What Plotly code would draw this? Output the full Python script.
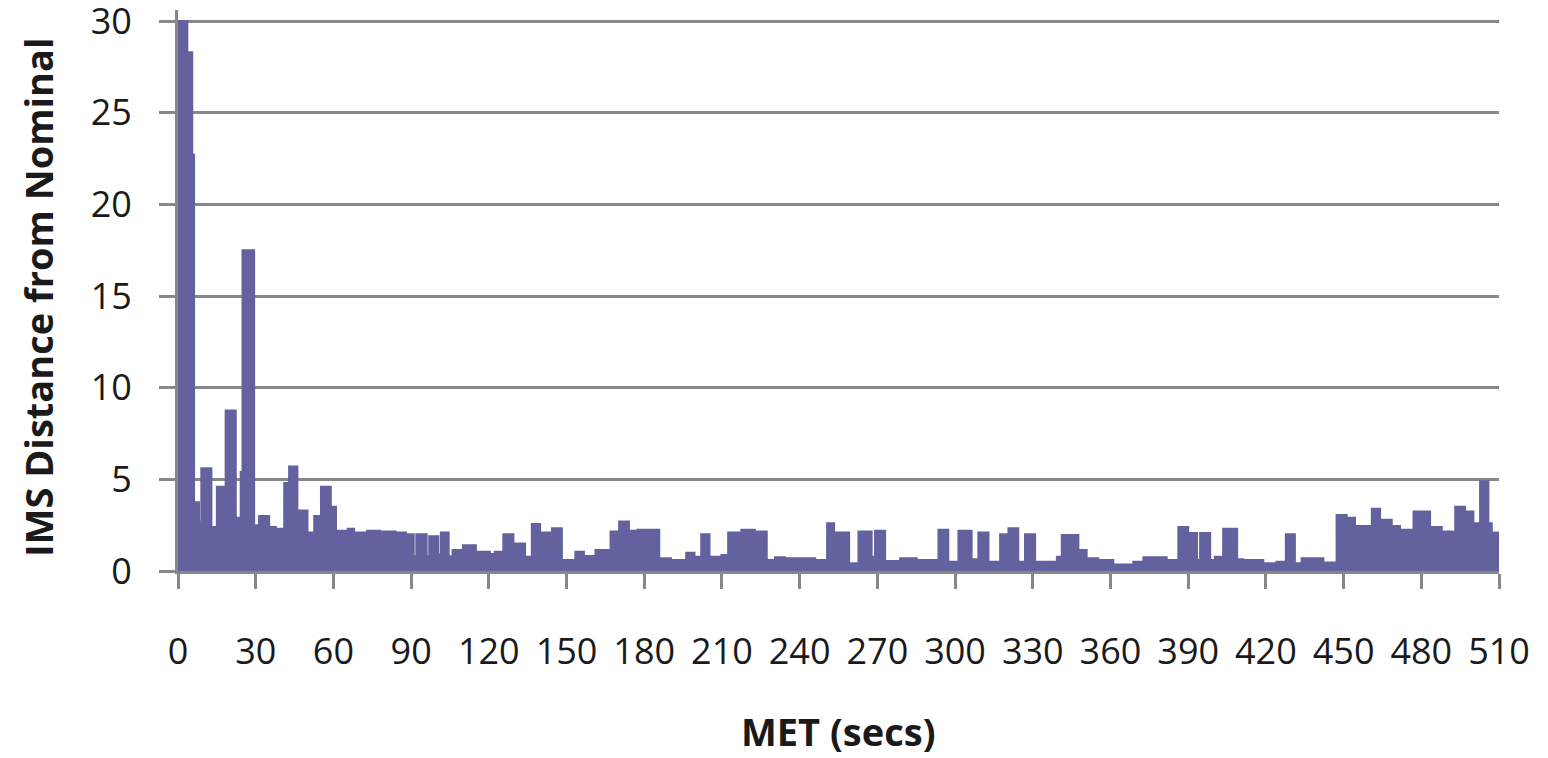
import plotly.graph_objects as go

# Step start times (secs) and envelope level (IMS distance)
met_start = [0, 3.6, 5.5, 6.2, 8.1, 9.0, 12.9, 15.0, 18.4, 22.3, 24.2, 24.9, 29.4, 31.3,
             35.2, 37.8, 41.0, 42.9, 46.1, 50.0, 52.6, 55.2, 59.0, 61.0, 65.5, 68.0, 73.0,
             78.0, 84.0, 88.0, 91.0, 92.0, 96.0, 97.0, 100.5, 101.5, 104.5, 106.0, 110.0,
             115.0, 120.4, 122.3, 125.6, 129.5, 134.0, 136.6, 139.8, 144.4, 148.2, 153.4,
             156.7, 161.2, 167.0, 170.3, 174.1, 177.4, 185.8, 190.3, 196.2, 199.4, 202.0,
             205.2, 209.8, 212.4, 217.5, 222.7, 227.3, 230.5, 234.4, 246.0, 250.6, 253.3,
             259.1, 262.7, 267.8, 269.1, 273.0, 278.8, 285.2, 293.6, 297.4, 301.3, 306.4,
             309.0, 312.9, 317.4, 320.6, 324.4, 327.0, 330.9, 339.3, 341.2, 347.6, 350.8,
             355.3, 361.1, 368.8, 372.7, 381.7, 386.2, 390.0, 393.4, 394.6, 398.5, 400.3,
             403.5, 408.9, 411.2, 419.0, 424.1, 427.7, 431.2, 433.8, 442.2, 447.3, 451.2,
             454.4, 460.9, 464.1, 468.6, 471.8, 477.0, 483.4, 487.9, 493.1, 496.9, 500.1,
             502.7, 505.9, 507.2, 510.0]
ims_level = [30, 28.3, 22.7, 3.75, 2.7, 5.6, 2.4, 4.6, 8.75, 2.9, 5.4, 17.5, 2.5, 3.0,
             2.4, 2.3, 4.8, 5.7, 3.3, 2.1, 3.0, 4.6, 3.5, 2.2, 2.3, 2.1, 2.2,
             2.15, 2.1, 2.0, 0.8, 2.0, 0.8, 1.9, 0.9, 2.1, 0.8, 1.15, 1.4,
             1.05, 0.93, 1.05, 2.0, 1.5, 0.78, 2.56, 2.1, 2.33, 0.6, 1.05,
             0.82, 1.15, 2.15, 2.7, 2.2, 2.25, 0.7, 0.6, 1.0, 0.78, 2.0,
             0.78, 0.87, 2.1, 2.25, 2.15, 0.6, 0.75, 0.7, 0.6, 2.6, 2.1,
             0.42, 2.15, 0.78, 2.2, 0.55, 0.7, 0.6, 2.25, 0.5, 2.2, 0.64,
             2.1, 0.5, 2.0, 2.33, 0.5, 2.0, 0.5, 0.78, 1.96, 1.15, 0.7,
             0.6, 0.36, 0.5, 0.75, 0.6, 2.4, 2.07, 0.6, 2.07, 0.6, 0.78,
             2.3, 0.64, 0.6, 0.42, 0.5, 2.0, 0.42, 0.7, 0.47, 3.05, 2.9,
             2.45, 3.4, 2.8, 2.45, 2.25, 3.25, 2.4, 2.15, 3.5, 3.25, 2.6,
             4.9, 2.6, 2.1, 2.1]

x_ticks = list(range(0, 511, 30))
y_ticks = [0, 5, 10, 15, 20, 25, 30]

COLOR = "#63629F"
GRID = "#878787"
FONT = "Open Sans"
TXT = "#1a1a1a"

PLOT_H = 561  # pixel height of the plotting area


def py(p):
    """screen pixel row -> paper y"""
    return (571 - p) / PLOT_H


fig = go.Figure()
fig.add_trace(go.Scatter(
    x=met_start, y=ims_level, mode="lines", line_shape="hv",
    line=dict(color=COLOR, width=2), fill="tozeroy", fillcolor=COLOR,
    showlegend=False, hoverinfo="skip"))

fig.update_layout(
    width=1548, height=758,
    margin=dict(l=178, r=49, t=10, b=187, autoexpand=False),
    plot_bgcolor="white", paper_bgcolor="white",
    font=dict(family=FONT, size=36, color=TXT),
    xaxis=dict(range=[0, 510], tickvals=x_ticks, tickangle=0, automargin=False,
               showgrid=False, zeroline=False, showline=True, linecolor=GRID,
               linewidth=3, ticks="outside", ticklen=15, tickwidth=3,
               tickcolor=GRID, ticklabelstandoff=32, ticklabeloverflow="allow",
               tickfont=dict(family=FONT, size=36, color=TXT)),
    yaxis=dict(range=[0, 30.6], tickvals=y_ticks, automargin=False,
               showgrid=True, gridcolor=GRID,
               gridwidth=3, zeroline=False, showline=True, linecolor=GRID,
               linewidth=3, ticks="outside", ticklen=16, tickwidth=3,
               tickcolor=GRID, ticklabelstandoff=20, ticklabeloverflow="allow",
               tickfont=dict(family=FONT, size=36, color=TXT)),
    annotations=[
        dict(text="<b>MET (secs)</b>", xref="paper", yref="paper",
             x=(838 - 178) / 1321, y=py(731), xanchor="center", yanchor="middle",
             showarrow=False, font=dict(family=FONT, size=38, color=TXT)),
        dict(text="<b>IMS Distance from Nominal</b>", xref="paper", yref="paper",
             x=(38 - 178) / 1321, y=py(297), xanchor="center",
             yanchor="middle", textangle=-90, showarrow=False,
             font=dict(family=FONT, size=38, color=TXT)),
    ],
)

fig.write_html("out.html",
               config={"displayModeBar": False},
               post_script="document.body.style.margin='0';")
